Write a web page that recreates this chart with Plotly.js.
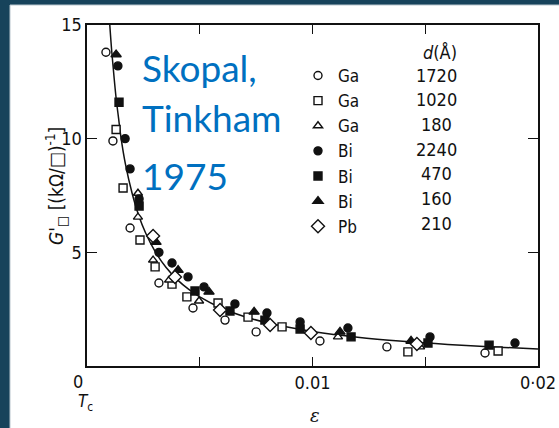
<!DOCTYPE html>
<html><head><meta charset="utf-8">
<script src="https://cdn.plot.ly/plotly-3.0.1.min.js"></script>
<style>html,body{margin:0;padding:0;background:#17435b;}#chart{width:559px;height:428px;}</style>
</head><body><div id="chart"></div>
<script>
// ---- data ----
const ga1720Eps = [0.00084, 0.00115, 0.00191, 0.00319, 0.0047, 0.00612, 0.0075, 0.01033, 0.0133, 0.01765];
const ga1720G   = [13.8, 9.9, 6.07, 3.65, 2.55, 2.02, 1.5, 1.1, 0.84, 0.57];
const ga1020Eps = [0.00129, 0.0016, 0.00235, 0.00302, 0.00377, 0.00443, 0.00581, 0.00714, 0.00865, 0.01423, 0.01823];
const ga1020G   = [10.4, 7.83, 5.54, 4.36, 3.6, 3.04, 2.77, 2.15, 1.72, 0.62, 0.66];
const ga180Eps  = [0.00226, 0.00226, 0.00293, 0.00364, 0.00497, 0.01113, 0.01477];
const ga180G    = [7.6, 6.55, 4.66, 3.78, 2.86, 1.28, 0.84];
const bi2240Eps = [0.00137, 0.00169, 0.00191, 0.00231, 0.00319, 0.00377, 0.00448, 0.00519, 0.00656, 0.00798, 0.00945, 0.01157, 0.01521, 0.01898];
const bi2240G   = [13.2, 10.0, 8.67, 7.35, 5.0, 4.53, 3.92, 3.48, 2.73, 2.33, 1.94, 1.67, 1.28, 1.01];
const bi470Eps  = [0.00142, 0.00231, 0.00479, 0.00634, 0.00789, 0.00945, 0.01171, 0.01512, 0.01783];
const bi470G    = [11.6, 7.04, 3.3, 2.42, 2.02, 1.63, 1.28, 1.01, 0.92];
const bi160Eps  = [0.00129, 0.00306, 0.00404, 0.00541, 0.00741, 0.01122, 0.01437];
const bi160G    = [13.7, 5.45, 4.22, 3.26, 2.38, 1.5, 1.1];
const pb210Eps  = [0.00293, 0.0039, 0.0059, 0.00812, 0.00993, 0.01463];
const pb210G    = [5.72, 3.92, 2.46, 1.8, 1.45, 0.97];
const fitEps = [0.00101, 0.0011, 0.0012, 0.0013, 0.0014, 0.0015, 0.0017, 0.002, 0.0023, 0.0026, 0.003, 0.0035, 0.004, 0.0045, 0.005, 0.006, 0.007, 0.008, 0.009, 0.01, 0.012, 0.014, 0.016, 0.018, 0.02];
const fitG   = [15.0, 13.8, 12.7, 11.7, 10.9, 10.1, 8.9, 7.6, 6.6, 5.85, 5.07, 4.34, 3.8, 3.38, 3.04, 2.53, 2.17, 1.9, 1.69, 1.52, 1.27, 1.09, 0.95, 0.84, 0.75];
const seriesNames = ['Ga', 'Ga', 'Ga', 'Bi', 'Bi', 'Bi', 'Pb'];
const thickness  = ['1720', '1020', '180', '2240', '470', '160', '210'];
const xTickVals = [0.01, 0.02];
const xTickText = ['0.01', '0·02'];
const xMinorTickVals = [0.005, 0.015];
const yTickVals = [5, 10, 15];
const yTickText = ['5', '10', '15'];
const xTitle = '<i>ε</i>';
const yTitle = "<i>G</i>'<sub>□</sub> [(kΩ/□)<sup>-1</sup>]";

// ---- layout helpers ----
const L = 87, R = 538, T = 25, B = 366;
const px = x => (x - L) / (R - L);
const py = y => (B - y) / (B - T);
const NARROW = '"Liberation Sans Narrow", "DejaVu Sans Condensed", "Arial Narrow", sans-serif';
const INK = '#111111';

function mk(eps, g, i, symbol, fill, size) {
  return {
    x: eps, y: g, type: 'scatter', mode: 'markers', name: seriesNames[i],
    marker: {symbol: symbol, size: size, color: fill, line: {color: INK, width: 1.4}},
    hoverinfo: 'x+y'
  };
}
const traces = [
  {x: fitEps, y: fitG, type: 'scatter', mode: 'lines', line: {color: INK, width: 1.5, shape: 'spline'}, showlegend: false, hoverinfo: 'skip'},
  mk(ga1720Eps, ga1720G, 0, 'circle', 'white', 8),
  mk(ga1020Eps, ga1020G, 1, 'square', 'white', 8),
  mk(ga180Eps, ga180G, 2, 'triangle-up', 'white', 8),
  mk(bi2240Eps, bi2240G, 3, 'circle', INK, 8),
  mk(bi470Eps, bi470G, 4, 'square', INK, 8),
  mk(bi160Eps, bi160G, 5, 'triangle-up', INK, 9),
  mk(pb210Eps, pb210G, 6, 'diamond', 'white', 10)
];

const annotations = [];
const rowY0 = 75, rowStep = 24.7;
thickness.forEach((t, i) => {
  annotations.push({text: t, xref: 'paper', yref: 'paper', x: px(436), y: py(rowY0 + rowStep * i),
    xanchor: 'center', yanchor: 'middle', showarrow: false, font: {family: NARROW, size: 18, color: INK}});
});
annotations.push({text: '<i>d</i>(Å)', xref: 'paper', yref: 'paper', x: px(440), y: py(52),
  xanchor: 'center', yanchor: 'middle', showarrow: false, font: {family: NARROW, size: 18, color: INK}});
annotations.push({text: '0', xref: 'paper', yref: 'paper', x: px(78), y: py(381),
  xanchor: 'center', yanchor: 'middle', showarrow: false, font: {family: NARROW, size: 18, color: INK}});
annotations.push({text: '<i>T</i><sub>c</sub>', xref: 'paper', yref: 'paper', x: px(85), y: py(403),
  xanchor: 'center', yanchor: 'middle', showarrow: false, font: {family: NARROW, size: 17, color: INK}});
// axis titles
annotations.push({text: yTitle, xref: 'paper', yref: 'paper', x: px(56), y: py(186), textangle: -90,
  xanchor: 'center', yanchor: 'middle', showarrow: false, font: {family: NARROW, size: 19, color: INK}});
annotations.push({text: xTitle, xref: 'paper', yref: 'paper', x: px(315), y: py(415),
  xanchor: 'center', yanchor: 'middle', showarrow: false, font: {family: 'DejaVu Serif, serif', size: 18, color: INK}});
const BLUE = '#0070c0';
[['Skopal,', 67], ['Tinkham', 117], ['1975', 175]].forEach(([t, y]) => {
  annotations.push({text: t, xref: 'paper', yref: 'paper', x: px(140), y: py(y),
    xanchor: 'left', yanchor: 'middle', showarrow: false, font: {family: 'Lato, "Open Sans", sans-serif', size: 37, color: BLUE}});
});

const layout = {
  width: 559, height: 428,
  margin: {l: L, r: 559 - R, t: T, b: 428 - B, pad: 0},
  paper_bgcolor: '#17435b', plot_bgcolor: 'white',
  showlegend: true,
  legend: {x: px(298), y: py(58), xanchor: 'left', yanchor: 'top', bgcolor: 'rgba(0,0,0,0)', borderwidth: 0,
    font: {family: NARROW, size: 17, color: INK}, itemwidth: 30},
  xaxis: {range: [0, 0.02], tickvals: xTickVals, ticktext: xTickText, ticks: 'inside', ticklen: 9, tickwidth: 1.2,
    tickcolor: INK, showline: true, linecolor: INK, linewidth: 1.6, mirror: 'ticks', showgrid: false, zeroline: false,
    minor: {tickvals: xMinorTickVals, ticks: 'inside', ticklen: 9, tickwidth: 1.2, tickcolor: INK, showgrid: false},
    tickfont: {family: NARROW, size: 18, color: INK}},
  yaxis: {range: [0, 15], tickvals: yTickVals, ticktext: yTickText, ticks: 'inside', ticklen: 10, tickwidth: 1.2,
    tickcolor: INK, showline: true, linecolor: INK, linewidth: 1.6, mirror: 'ticks', showgrid: false, zeroline: false,
    tickfont: {family: NARROW, size: 18, color: INK}},
  shapes: [{type: 'rect', xref: 'paper', yref: 'paper', layer: 'below',
    x0: px(10), x1: px(562), y0: py(432), y1: py(5), fillcolor: 'white', line: {color: '#b9c6ce', width: 1}}],
  annotations: annotations
};
Plotly.newPlot('chart', traces, layout, {displayModeBar: false, staticPlot: true});
</script></body></html>
